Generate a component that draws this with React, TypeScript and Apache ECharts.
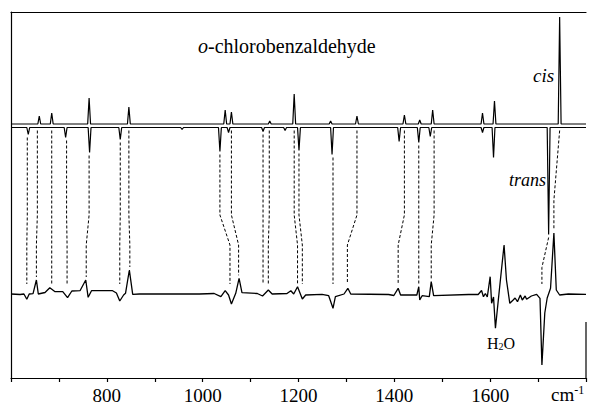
import React, { useEffect, useRef } from "react";
import * as echarts from "echarts";

// x axis (wavenumber, cm-1)
const xMin = 600;
const xMax = 1800;
const tickLabels = [800, 1000, 1200, 1400, 1600];

// calculated cis spectrum: peak positions (cm-1) and heights (arb.)
const cisPos = [659, 685, 763, 846, 1047, 1060, 1140, 1191, 1267, 1322, 1421, 1453, 1480, 1584, 1609, 1745];
const cisInt = [8, 11, 26, 17, 14, 12, 3, 30, 3, 8, 9, 4, 14, 11, 23, 107];

// calculated trans spectrum: peak positions and heights (drawn downward)
const transPos = [636, 714, 764, 828, 957, 1036, 1054, 1126, 1172, 1201, 1270, 1410, 1451, 1475, 1584, 1607, 1722];
const transInt = [7, 10, 25, 12, 2, 24, 5, 4, 3, 23, 27, 14, 15, 9, 5, 30, 107];

// experimental difference spectrum
const expWn = [600, 619, 627, 633, 638, 646, 653, 657, 671, 681, 692, 708, 718, 727, 744, 756, 761, 768, 812, 820, 827, 835, 839, 847, 854, 868, 993, 1024, 1038, 1047, 1054, 1060, 1069, 1076, 1082, 1114, 1125, 1130, 1137, 1145, 1176, 1184, 1190, 1198, 1208, 1215, 1249, 1263, 1272, 1277, 1295, 1303, 1309, 1388, 1399, 1408, 1413, 1447, 1451, 1453, 1458, 1473, 1477, 1482, 1555, 1575, 1582, 1586, 1590, 1594, 1600, 1603, 1607, 1611, 1617, 1629, 1634, 1641, 1648, 1652, 1657, 1663, 1667, 1673, 1676, 1686, 1697, 1704, 1708, 1714, 1719, 1726, 1733, 1738, 1745, 1763, 1800];
const expInt = [0, -0.5, 0, -5.3, 0, 0.3, 14, 0, 1.5, 6.3, 2.3, 2.3, -3.7, 3, 3.3, 14, -3.3, 3.3, 3.3, 1, -7, -1, 0.7, 24, -0.3, 0, 0, 0.5, -2.7, 3.3, -1, -10, 0.7, 15.7, 1.3, 0.5, -2, 0.5, 4, 0, 0.5, 3.3, 0, 7.3, -5, -1, -0.3, -1.7, -14.3, -2.7, 0, 5.7, 0, -0.5, -1.5, 5.7, -1, -1, 7.3, -6, -1.7, -2.7, 12.3, -1.7, -0.5, -0.5, 3.5, -2.7, 0.5, -3, 17.3, -9.3, -3, -34.3, -6, 49, 14, -9.3, -6, -4, -7.7, -1, -6, -2, -5.3, -2, -0.3, -4.3, -71, -19, -4, 5.7, 61, 4, -1, 0, -0.3];

// assignments: calculated band -> experimental band (dashed connectors)
const assignCalc = [634, 655, 685, 716, 763, 828, 846, 1036, 1060, 1126, 1139, 1191, 1201, 1272, 1322, 1421, 1451, 1483, 1745, 1722];
const assignExp = [633, 653, 685, 717, 757, 827, 848, 1057, 1075, 1126, 1137, 1198, 1208, 1272, 1302, 1408, 1451, 1477, 1733, 1708];

// vertical stacking (layout)
const Y_MAX = 366;
const CIS_OFF = 254;
const TRANS_OFF = 250.5;
const EXP_OFF = 84;
const HALF_W = 3;
const RIGHT_EDGE_H = 56;

const SERIF = "serif";

function stickTrace(pos: number[], ints: number[], sign: number, off: number) {
  const idx = pos.map((_, i) => i).sort((a, b) => pos[a] - pos[b]);
  const pts: number[][] = [[xMin, off]];
  idx.forEach((i) => {
    pts.push([pos[i] - HALF_W, off]);
    pts.push([pos[i], off + sign * ints[i]]);
    pts.push([pos[i] + HALF_W, off]);
  });
  pts.push([xMax, off]);
  return pts;
}

function connectorSeries() {
  return assignCalc.map((c, k) => {
    const e = assignExp[k];
    let depth = 0;
    transPos.forEach((p, i) => {
      if (Math.abs(p - c) <= 5) depth = Math.max(depth, transInt[i]);
    });
    let peak = 0;
    expWn.forEach((w, i) => {
      if (Math.abs(w - e) <= 4) peak = Math.max(peak, expInt[i]);
    });
    const vTop = TRANS_OFF - depth - 3;
    const vBot = EXP_OFF + Math.max(10, peak + 3);
    let b1 = Math.min(vTop, 163);
    let b2 = b1 - 30;
    if (b2 < vBot) {
      b1 = vTop;
      b2 = vTop - (vTop - vBot) * 0.7;
    }
    return {
      type: "line",
      data: [
        [c, vTop],
        [c, b1],
        [e, b2],
        [e, vBot],
      ],
      showSymbol: false,
      silent: true,
      lineStyle: { color: "#000", width: 1, type: [3, 2] },
      z: 1,
    };
  });
}

export default function App() {
  const ref = useRef<HTMLDivElement>(null);
  useEffect(() => {
    if (!ref.current) return;
    const chart = echarts.init(ref.current, undefined, { renderer: "svg" });
    chart.setOption({
      animation: false,
      backgroundColor: "#fff",
      textStyle: { fontFamily: SERIF },
      grid: { left: 11, right: 1, top: 12, bottom: 36 },
      xAxis: [
        {
          type: "value",
          min: xMin,
          max: xMax,
          interval: 100,
          axisLine: { show: true, onZero: false, lineStyle: { color: "#000", width: 1.2 } },
          axisTick: { show: true, length: 4, lineStyle: { color: "#000", width: 1.2 } },
          splitLine: { show: false },
          axisLabel: {
            color: "#000",
            fontFamily: SERIF,
            fontSize: 19,
            margin: 8,
            formatter: (v: number) => (tickLabels.includes(v) ? String(v) : ""),
          },
        },
        {
          type: "value",
          position: "top",
          min: xMin,
          max: xMax,
          axisLine: { show: true, onZero: false, lineStyle: { color: "#000", width: 1.2 } },
          axisTick: { show: false },
          axisLabel: { show: false },
          splitLine: { show: false },
        },
      ],
      yAxis: {
        type: "value",
        min: 0,
        max: Y_MAX,
        axisLine: { show: true, onZero: false, lineStyle: { color: "#000", width: 1.2 } },
        axisTick: { show: false },
        axisLabel: { show: false },
        splitLine: { show: false },
      },
      series: [
        ...connectorSeries(),
        {
          type: "line",
          data: stickTrace(transPos, transInt, -1, TRANS_OFF),
          showSymbol: false,
          lineStyle: { color: "#000", width: 1.2 },
          z: 2,
        },
        {
          type: "line",
          data: stickTrace(cisPos, cisInt, 1, CIS_OFF),
          showSymbol: false,
          lineStyle: { color: "#000", width: 1.2 },
          z: 2,
        },
        {
          type: "line",
          data: expWn.map((w, i) => [w, EXP_OFF + expInt[i]]),
          showSymbol: false,
          lineStyle: { color: "#000", width: 1.3 },
          z: 2,
        },
        {
          type: "line",
          data: [
            [xMax, 0],
            [xMax, RIGHT_EDGE_H],
          ],
          showSymbol: false,
          clip: false,
          silent: true,
          lineStyle: { color: "#000", width: 1.2 },
          z: 2,
        },
      ],
      graphic: [
        {
          type: "text",
          x: 198,
          y: 36,
          style: {
            text: "{i|o}{n|-chlorobenzaldehyde}",
            fontFamily: SERIF,
            rich: {
              i: { fontFamily: SERIF, fontSize: 20, fontStyle: "italic", fill: "#000" },
              n: { fontFamily: SERIF, fontSize: 20, fill: "#000" },
            },
          },
        },
        {
          type: "text",
          x: 533,
          y: 66,
          style: { text: "cis", fontFamily: SERIF, fontSize: 19, fontStyle: "italic", fill: "#000" },
        },
        {
          type: "text",
          x: 509,
          y: 171,
          style: { text: "trans", fontFamily: SERIF, fontSize: 18, fontStyle: "italic", fill: "#000" },
        },
        {
          type: "text",
          x: 487,
          y: 335,
          style: {
            text: "{a|H}{s|2}{a|O}",
            fontFamily: SERIF,
            rich: {
              a: { fontFamily: SERIF, fontSize: 16, fill: "#000" },
              s: { fontFamily: SERIF, fontSize: 10, fill: "#000", padding: [6, 0, 0, 0] },
            },
          },
        },
        {
          type: "text",
          x: 551,
          y: 384,
          style: {
            text: "{a|cm}{b|-1}",
            fontFamily: SERIF,
            rich: {
              a: { fontFamily: SERIF, fontSize: 19, fill: "#000" },
              b: { fontFamily: SERIF, fontSize: 12, fill: "#000", padding: [0, 0, 9, 0] },
            },
          },
        },
      ],
    });
    return () => chart.dispose();
  }, []);
  return (
    <div
      ref={ref}
      style={{
        position: "absolute",
        left: 0,
        top: 0,
        width: 589,
        height: 414,
        background: "#fff",
        fontFamily: "'Liberation Serif', serif",
      }}
    />
  );
}
